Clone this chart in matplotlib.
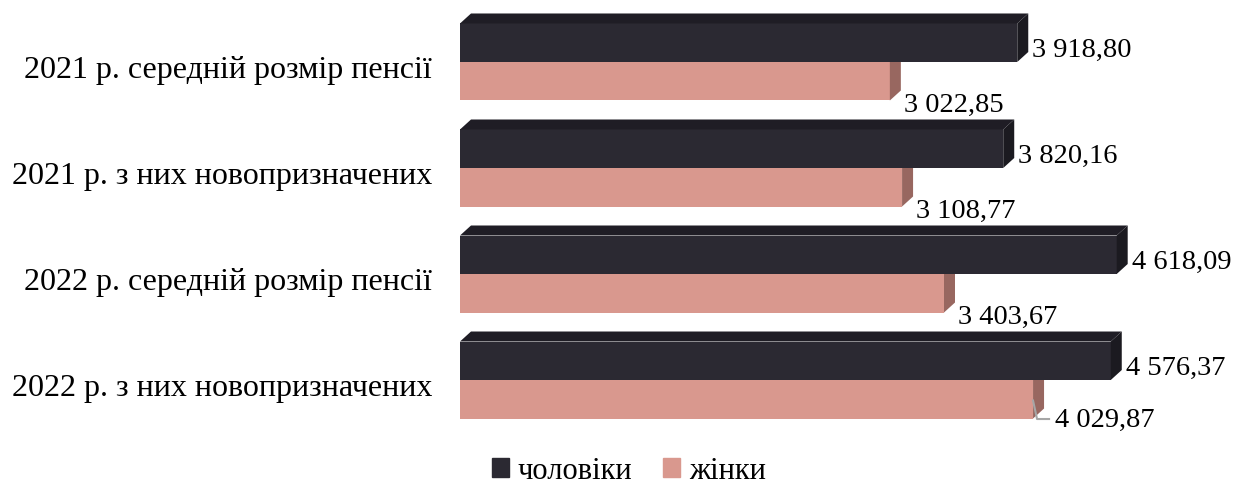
import matplotlib.pyplot as plt
from matplotlib.patches import Polygon, Patch

plt.rcParams['font.family'] = ['Liberation Serif', 'DejaVu Serif']

categories = ['2021 р. середній розмір пенсії',
              '2021 р. з них новопризначених',
              '2022 р. середній розмір пенсії',
              '2022 р. з них новопризначених']
men = [3918.80, 3820.16, 4618.09, 4576.37]
women = [3022.85, 3108.77, 3403.67, 4029.87]
men_labels = ['3 918,80', '3 820,16', '4 618,09', '4 576,37']
women_labels = ['3 022,85', '3 108,77', '3 403,67', '4 029,87']

MEN_FRONT, MEN_TOP, MEN_SIDE = '#2b2932', '#1f1d25', '#1b1a20'
WOM_FRONT, WOM_SIDE = '#d9988e', '#986760'

W, H = 1235, 486
fig = plt.figure(figsize=(W / 100, H / 100), dpi=100)
# axes covers pixels x 460..1171, y 0..430
ax = fig.add_axes([460 / W, 56 / H, 711 / W, 430 / H])
ax.set_xlim(0, 5000)
ax.set_ylim(-9.558, 1.610)
ax.axis('off')

px_x = 5000 / 711      # value units per pixel
px_y = 1 / 38.5        # y units per pixel
dx, dy = 11 * px_x, 10 * px_y
gap = 106 * px_y
fs_val = 20.5
fs_cat = 23


def box(x0, y0, v, h, front, side, top=None, z=1):
    ax.barh(y0 + h / 2, v, height=h, left=x0, color=front, zorder=z,
            linewidth=0)
    ax.add_patch(Polygon([(v, y0), (v, y0 + h), (v + dx, y0 + h + dy),
                          (v + dx, y0 + dy)], closed=True, color=side,
                         zorder=z, linewidth=0))
    if top is not None:
        ax.add_patch(Polygon([(0, y0 + h), (v, y0 + h), (v + dx, y0 + h + dy),
                              (dx, y0 + h + dy)], closed=True, color=top,
                             zorder=z, linewidth=0))


for i, cat in enumerate(categories):
    b = -i * gap
    box(0, b - 1, women[i], 1, WOM_FRONT, WOM_SIDE, z=1)
    box(0, b, men[i], 1, MEN_FRONT, MEN_SIDE, MEN_TOP, z=2)

    ax.text(men[i] + dx + 4 * px_x, b + 0.3, men_labels[i], fontsize=fs_val,
            ha='left', va='center')
    if i == len(categories) - 1:
        x1 = women[i] + 4 * px_x
        ax.plot([women[i], x1, x1 + 12 * px_x],
                [b - 1 + 18 * px_y, b - 1 - 0.5 * px_y, b - 1 - 0.5 * px_y],
                color='#a6a6a6', lw=1.5, zorder=3)
        ax.text(x1 + 18 * px_x, b - 1.06, women_labels[i], fontsize=fs_val,
                ha='left', va='center')
    else:
        ax.text(women[i] + dx + 3 * px_x, b - 1.12, women_labels[i],
                fontsize=fs_val, ha='left', va='center')

    ax.text(-28 * px_x, b - 0.22, cat, fontsize=fs_cat, ha='right',
            va='center', clip_on=False)

handles = [Patch(color=MEN_FRONT, label='чоловіки'),
           Patch(color=WOM_FRONT, label='жінки')]
fig.legend(handles=handles, loc='center', bbox_to_anchor=(629 / W, 1 - 471 / H),
           ncol=2, frameon=False, fontsize=22, handlelength=0.55,
           handleheight=0.55, handletextpad=0.3, columnspacing=1.0,
           borderpad=0.0)

fig.savefig('out.png', dpi=100)
